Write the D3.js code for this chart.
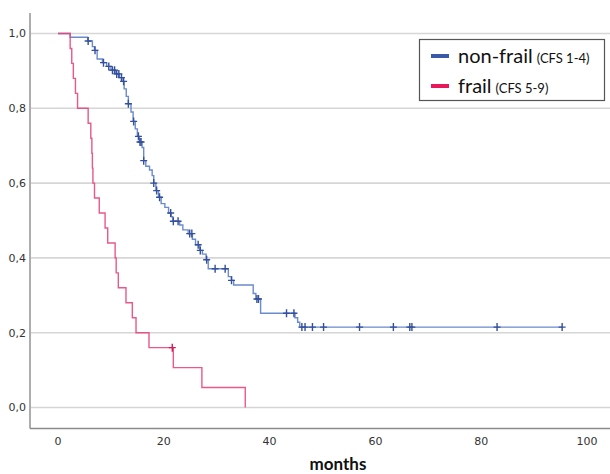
<!DOCTYPE html>
<html>
<head>
<meta charset="utf-8">
<script src="https://cdn.jsdelivr.net/npm/d3@7"></script>
<style>
  html, body { margin: 0; padding: 0; background: #ffffff; }
  svg { display: block; }
</style>
</head>
<body>
<div id="chart"></div>
<script>
// tick labels
let xTicks = [ 0, 20, 40, 60, 80, 100 ];
let yTicks = [ 0, 0.2, 0.4, 0.6, 0.8, 1.0 ];

// non-frail (CFS 1-4): step times (months) and survival after each step
let nfTimes = [ 0, 2.3, 5.6, 6.5, 6.9, 7.4, 8.4, 9.2, 10.0, 10.8, 11.6, 12.1, 12.5, 12.9, 13.3, 13.8, 14.2, 14.6, 15.0, 15.4, 15.9, 16.2, 16.6, 17.3, 17.8, 18.1, 18.5, 19.0, 19.5, 20.2, 20.9, 21.4, 21.7, 23.0, 23.6, 24.6, 25.4, 26.0, 26.8, 27.3, 28.0, 28.4, 32.2, 32.8, 33.2, 36.9, 37.4, 38.3, 44.8, 45.3, 45.7 ];
let nfSurv  = [ 1.0, 0.99, 0.98, 0.965, 0.955, 0.932, 0.922, 0.912, 0.902, 0.892, 0.882, 0.872, 0.852, 0.832, 0.812, 0.79, 0.765, 0.745, 0.725, 0.71, 0.695, 0.66, 0.645, 0.635, 0.62, 0.60, 0.58, 0.562, 0.545, 0.535, 0.52, 0.51, 0.498, 0.488, 0.475, 0.465, 0.45, 0.435, 0.42, 0.41, 0.395, 0.371, 0.35, 0.34, 0.3275, 0.305, 0.29, 0.252, 0.24, 0.228, 0.215 ];
let nfCensor = [ 5.7, 7.0, 8.6, 9.6, 10.3, 10.7, 11.1, 11.5, 12.0, 12.4, 13.3, 14.3, 15.2, 15.5, 15.7, 16.2, 18.1, 18.65, 19.2, 21.3, 21.8, 22.7, 24.9, 25.3, 26.5, 26.9, 28.1, 29.7, 31.6, 32.8, 37.6, 37.9, 43.2, 44.6, 46.1, 46.7, 48.1, 50.2, 57.0, 63.4, 66.5, 66.9, 83.0, 95.3 ];
let nfEnd = 95.3;

// frail (CFS 5-9)
let frTimes = [ 0, 2.3, 2.6, 2.9, 3.3, 3.7, 5.7, 6.2, 6.4, 6.5, 6.6, 6.9, 7.8, 8.9, 9.4, 10.8, 11.0, 11.4, 12.85, 14.05, 14.75, 17.2, 21.8, 27.2, 35.4 ];
let frSurv  = [ 1.0, 0.96, 0.92, 0.88, 0.84, 0.80, 0.76, 0.72, 0.68, 0.64, 0.60, 0.56, 0.52, 0.48, 0.44, 0.40, 0.36, 0.32, 0.28, 0.24, 0.20, 0.16, 0.1067, 0.0533, 0.0 ];
let frCensor = [ 21.6 ];
let frEnd = 35.4;

let seriesNames = [ "non-frail", "frail" ];
let seriesSub   = [ "(CFS 1-4)", "(CFS 5-9)" ];

const W = 610, H = 474;
const x = d3.scaleLinear().domain([0, 100]).range([58, 587]);
const y = d3.scaleLinear().domain([0, 1]).range([407.5, 33.5]);

const svg = d3.select("#chart").append("svg")
  .attr("width", W).attr("height", H);

// gridlines
svg.append("g").selectAll("line")
  .data(yTicks).enter().append("line")
    .attr("x1", 31).attr("x2", W)
    .attr("y1", d => y(d)).attr("y2", d => y(d))
    .attr("stroke", "#d6d6d6").attr("stroke-width", 1.6);

// axes frame
svg.append("line").attr("x1", 30).attr("x2", 30).attr("y1", 13).attr("y2", 428.5)
  .attr("stroke", "#8a8a8a").attr("stroke-width", 1.4);
svg.append("line").attr("x1", 30).attr("x2", W).attr("y1", 428.5).attr("y2", 428.5)
  .attr("stroke", "#8a8a8a").attr("stroke-width", 1.4);

// tick labels
const fmt = d => d.toFixed(1).replace(".", ",");
svg.append("g").selectAll("text")
  .data(yTicks).enter().append("text")
    .attr("x", 26).attr("y", d => y(d)).attr("dy", "0.35em")
    .attr("text-anchor", "end")
    .style("font-family", "DejaVu Sans").style("font-size", "11px").attr("fill", "#333")
    .text(fmt);
svg.append("g").selectAll("text")
  .data(xTicks).enter().append("text")
    .attr("x", d => x(d)).attr("y", 445)
    .attr("text-anchor", "middle")
    .style("font-family", "DejaVu Sans").style("font-size", "11px").attr("fill", "#333")
    .text(d => d);

svg.append("text")
  .attr("x", 338).attr("y", 470)
  .attr("text-anchor", "middle")
  .style("font-family", "Lato").style("font-weight", "bold").style("font-size", "17px")
  .attr("fill", "#111")
  .text("months");

// KM step lines
const stepLine = d3.line()
  .x(d => x(d[0])).y(d => y(d[1]))
  .curve(d3.curveStepAfter);

function kmPoints(times, surv, end) {
  let pts = times.map((t, i) => [t, surv[i]]);
  pts.push([end, surv[surv.length - 1]]);
  return pts;
}
function survAt(times, surv, t) {
  let s = surv[0];
  for (let i = 0; i < times.length; i++) { if (times[i] <= t) s = surv[i]; }
  return s;
}

const series = [
  { times: nfTimes, surv: nfSurv, cens: nfCensor, end: nfEnd, line: "#5a7ec6", mark: "#34509c" },
  { times: frTimes, surv: frSurv, cens: frCensor, end: frEnd, line: "#e8467c", mark: "#d41a55" }
];

series.forEach(s => {
  svg.append("path")
    .datum(kmPoints(s.times, s.surv, s.end))
    .attr("d", stepLine)
    .attr("fill", "none")
    .attr("stroke", s.line)
    .attr("stroke-width", 1.4)
    .attr("stroke-opacity", 0.9);

  svg.append("g").selectAll("path")
    .data(s.cens).enter().append("path")
      .attr("d", t => {
        let cx = x(t), cy = y(survAt(s.times, s.surv, t));
        return "M" + (cx - 3.5) + "," + cy + "H" + (cx + 3.5) + "M" + cx + "," + (cy - 4) + "V" + (cy + 4);
      })
      .attr("stroke", s.mark)
      .attr("stroke-width", 1.4)
      .attr("fill", "none");
});

// legend
const lg = svg.append("g");
lg.append("rect")
  .attr("x", 419.5).attr("y", 39.5).attr("width", 185).attr("height", 61)
  .attr("fill", "#ffffff").attr("stroke", "#555").attr("stroke-width", 1.2);
const swatch = [ "#3a5aa8", "#e8195a" ];
seriesNames.forEach((name, i) => {
  let cy = 56 + i * 30;
  lg.append("line")
    .attr("x1", 431).attr("x2", 449).attr("y1", cy).attr("y2", cy)
    .attr("stroke", swatch[i]).attr("stroke-width", 4);
  let t = lg.append("text")
    .attr("x", 458).attr("y", cy + 7)
    .style("font-family", "Lato").attr("fill", "#111");
  t.append("tspan").style("font-size", "20px").text(name);
  t.append("tspan").style("font-size", "13px").attr("dx", 4).text(seriesSub[i]);
});
</script>
</body>
</html>
